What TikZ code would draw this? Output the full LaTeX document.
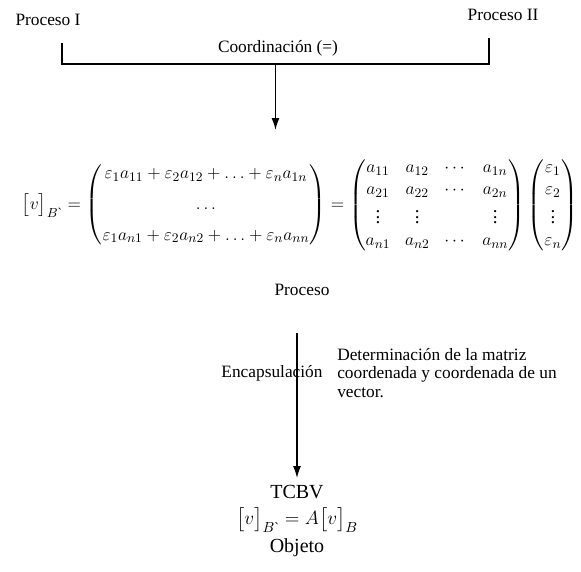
\documentclass[tikz,border=0pt]{standalone}
\usepackage{amsmath}
\usepackage{amssymb}
\usepackage{graphicx}
\usepackage{fontspec}
\setmainfont{Liberation Serif}
\usetikzlibrary{arrows.meta, positioning, calc}
\tikzset{
    schema/.style={x=0.75pt, y=-0.75pt, font=\fontsize{13}{15}\selectfont},
    flow/.style={-{Latex[length=9pt, width=6pt]}, line width=1.1pt},
    bracket/.style={line width=1.1pt},
    txt/.style={inner sep=0pt, align=center},
    % text beside the second arrow, flush left
    note/.style={inner sep=0pt, align=left, anchor=west, font=\fontsize{13}{14}\selectfont},
    big/.style={txt, font=\fontsize{15}{18}\selectfont},
}

\begin{document}
\begin{tikzpicture}[schema]
    \useasboundingbox (0,0) rectangle (581,571);

    \node[txt] (p1)    at (48,20)  {Proceso I};
    \node[txt] (p2)    at (503,15) {Proceso II};
    \node[txt] (coord) at (278,48) {Coordinación (=)};

    \coordinate (l1) at (62,43);
    \coordinate (l2) at (62,64);
    \coordinate (r2) at (489,64);
    \coordinate (r1) at (489,38);
    \coordinate (mid) at ($(l2)!0.5!(r2)$);
    \coordinate (tip1) at ($(mid)+(0,66)$);

    \node[txt] (eq) at (300,205) {\resizebox{417pt}{!}{$\bigl[v\bigr]_{B\text{\textasciigrave}} =
        \begin{pmatrix}
            \varepsilon_1 a_{11} + \varepsilon_2 a_{12} + \ldots + \varepsilon_n a_{1n} \\[6pt]
            \ldots \\[6pt]
            \varepsilon_1 a_{n1} + \varepsilon_2 a_{n2} + \ldots + \varepsilon_n a_{nn}
        \end{pmatrix}
        =
        \begin{pmatrix}
            a_{11} & a_{12} & \cdots & a_{1n} \\
            a_{21} & a_{22} & \cdots & a_{2n} \\
            \vdots & \vdots &        & \vdots \\
            a_{n1} & a_{n2} & \cdots & a_{nn}
        \end{pmatrix}
        \begin{pmatrix}
            \varepsilon_1 \\ \varepsilon_2 \\ \vdots \\ \varepsilon_n
        \end{pmatrix}$}};

    \node[txt] (proc) at (302,290) {Proceso};

    \coordinate (a2) at (297,333);
    \coordinate (b2) at (297,478);
    \node[txt]  (enc) at (272,373) {Encapsulación};
    \node[note] (det) at (337,373) {Determinación de la matriz\\coordenada y coordenada de un\\vector.};

    \node[big] (tcbv) at (297,492) {TCBV};
    \node[big] (rel)  at (297,520) {$\bigl[v\bigr]_{B\text{\textasciigrave}} = A\bigl[v\bigr]_B$};
    \node[big] (obj)  at (297,548) {Objeto};

    \draw[bracket] (l1) -- (l2) -- (r2) -- (r1);
    \draw[flow] (mid) -- (tip1);
    \draw[flow] (a2) -- (b2);
\end{tikzpicture}
\end{document}
